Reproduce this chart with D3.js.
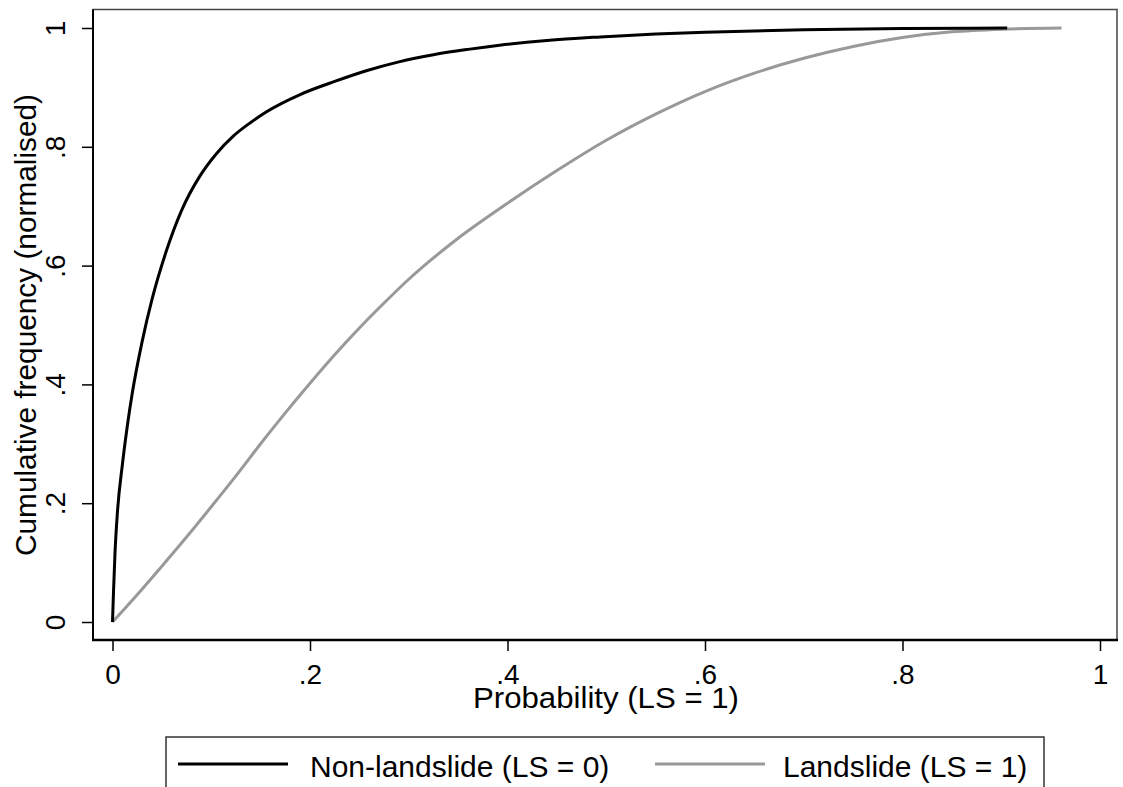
<!DOCTYPE html>
<html>
<head>
<meta charset="utf-8">
<script src="https://cdn.jsdelivr.net/npm/d3@7"></script>
<style>
  html, body { margin: 0; padding: 0; background: #fff; }
  svg { display: block; }
  text { font-family: "Liberation Sans", Arial, Helvetica, sans-serif; fill: #000; }
</style>
</head>
<body>
<svg id="chart" width="1123" height="787"></svg>
<script>
// ---- data ----
const nonLandslideX = [0, 0.001, 0.0025, 0.005, 0.01, 0.015, 0.02, 0.03, 0.04, 0.055, 0.07, 0.0886, 0.105, 0.1223, 0.14, 0.156, 0.19, 0.225, 0.257, 0.29, 0.325, 0.36, 0.392, 0.44, 0.494, 0.55, 0.6, 0.7, 0.8, 0.906];
const nonLandslideY = [0, 0.05, 0.115, 0.185, 0.265, 0.33, 0.385, 0.472, 0.543, 0.627, 0.693, 0.751, 0.788, 0.818, 0.841, 0.859, 0.888, 0.910, 0.928, 0.943, 0.955, 0.964, 0.971, 0.979, 0.985, 0.990, 0.993, 0.997, 0.999, 1.0];

const landslideX = [0, 0.025, 0.05, 0.075, 0.1, 0.125, 0.15, 0.175, 0.2, 0.225, 0.25, 0.275, 0.3, 0.35, 0.4, 0.45, 0.5, 0.55, 0.6, 0.65, 0.7, 0.75, 0.8, 0.85, 0.9, 0.961];
const landslideY = [0, 0.046, 0.094, 0.143, 0.194, 0.246, 0.300, 0.352, 0.402, 0.450, 0.495, 0.537, 0.577, 0.646, 0.705, 0.760, 0.811, 0.855, 0.893, 0.924, 0.949, 0.969, 0.984, 0.9935, 0.998, 1.0];

const tickValues = [0, 0.2, 0.4, 0.6, 0.8, 1];
const tickLabels = ["0", ".2", ".4", ".6", ".8", "1"];

const seriesNames = ["Non-landslide (LS = 0)", "Landslide (LS = 1)"];
const seriesColors = ["#000000", "#999999"];

const xTitle = "Probability (LS = 1)";
const yTitle = "Cumulative frequency (normalised)";

// ---- layout ----
const svg = d3.select("#chart");
const frame = { left: 93, top: 9.5, right: 1117, bottom: 640 };

const x = d3.scaleLinear().domain([0, 1]).range([112.5, 1100]);
const y = d3.scaleLinear().domain([0, 1]).range([622, 28]);

// frame
svg.append("rect")
  .attr("x", frame.left).attr("y", frame.top)
  .attr("width", frame.right - frame.left).attr("height", frame.bottom - frame.top)
  .attr("fill", "none").attr("stroke", "#444").attr("stroke-width", 1.5);
svg.append("line")
  .attr("x1", frame.left).attr("x2", frame.left)
  .attr("y1", frame.top).attr("y2", frame.bottom + 1)
  .attr("stroke", "#000").attr("stroke-width", 2);
svg.append("line")
  .attr("x1", frame.left - 1).attr("x2", frame.right + 1)
  .attr("y1", frame.bottom).attr("y2", frame.bottom)
  .attr("stroke", "#000").attr("stroke-width", 2.5);

// axes
const xAxis = d3.axisBottom(x).tickValues(tickValues)
  .tickFormat((d, i) => tickLabels[i]).tickSize(11).tickPadding(13);
const gx = svg.append("g").attr("transform", `translate(0,${frame.bottom})`).call(xAxis);
gx.select(".domain").remove();
gx.selectAll(".tick line").attr("stroke", "#000").attr("stroke-width", 1.5);
gx.selectAll(".tick text").style("font-size", "28px").attr("fill", "#000")
  .style("font-family", '"Liberation Sans", Arial, sans-serif');

const yAxis = d3.axisLeft(y).tickValues(tickValues)
  .tickFormat((d, i) => tickLabels[i]).tickSize(11);
const gy = svg.append("g").attr("transform", `translate(${frame.left},0)`).call(yAxis);
gy.select(".domain").remove();
gy.selectAll(".tick line").attr("stroke", "#000").attr("stroke-width", 1.5);
gy.selectAll(".tick text")
  .attr("x", null).attr("y", null).attr("dy", null)
  .attr("text-anchor", "middle")
  .attr("transform", "translate(-28,0) rotate(-90)")
  .style("font-size", "28px").attr("fill", "#000")
  .style("font-family", '"Liberation Sans", Arial, sans-serif');

// titles
svg.append("text")
  .attr("x", 606).attr("y", 708)
  .attr("text-anchor", "middle")
  .style("font-size", "29px")
  .attr("textLength", 266).attr("lengthAdjust", "spacingAndGlyphs")
  .text(xTitle);

svg.append("text")
  .attr("transform", "translate(36,325) rotate(-90)")
  .attr("text-anchor", "middle")
  .style("font-size", "30px")
  .attr("textLength", 462).attr("lengthAdjust", "spacingAndGlyphs")
  .text(yTitle);

// curves
const line = d3.line()
  .x(d => x(d[0])).y(d => y(d[1]))
  .curve(d3.curveMonotoneX);

const series = [
  d3.zip(nonLandslideX, nonLandslideY),
  d3.zip(landslideX, landslideY)
];

// draw gray first then black on top
[1, 0].forEach(i => {
  svg.append("path")
    .datum(series[i])
    .attr("fill", "none")
    .attr("stroke", seriesColors[i])
    .attr("stroke-width", 3)
    .attr("stroke-linejoin", "round")
    .attr("d", line);
});

// legend
const legend = svg.append("g");
legend.append("rect")
  .attr("x", 166).attr("y", 737)
  .attr("width", 878).attr("height", 80)
  .attr("fill", "#fff").attr("stroke", "#333").attr("stroke-width", 1.5);

const legendItems = [
  { x1: 178, x2: 288, tx: 310 },
  { x1: 655, x2: 765, tx: 783 }
];
legendItems.forEach((it, i) => {
  legend.append("line")
    .attr("x1", it.x1).attr("x2", it.x2)
    .attr("y1", 764).attr("y2", 764)
    .attr("stroke", seriesColors[i]).attr("stroke-width", 3);
  legend.append("text")
    .attr("x", it.tx).attr("y", 777)
    .style("font-size", "30px")
    .text(seriesNames[i]);
});
</script>
</body>
</html>
